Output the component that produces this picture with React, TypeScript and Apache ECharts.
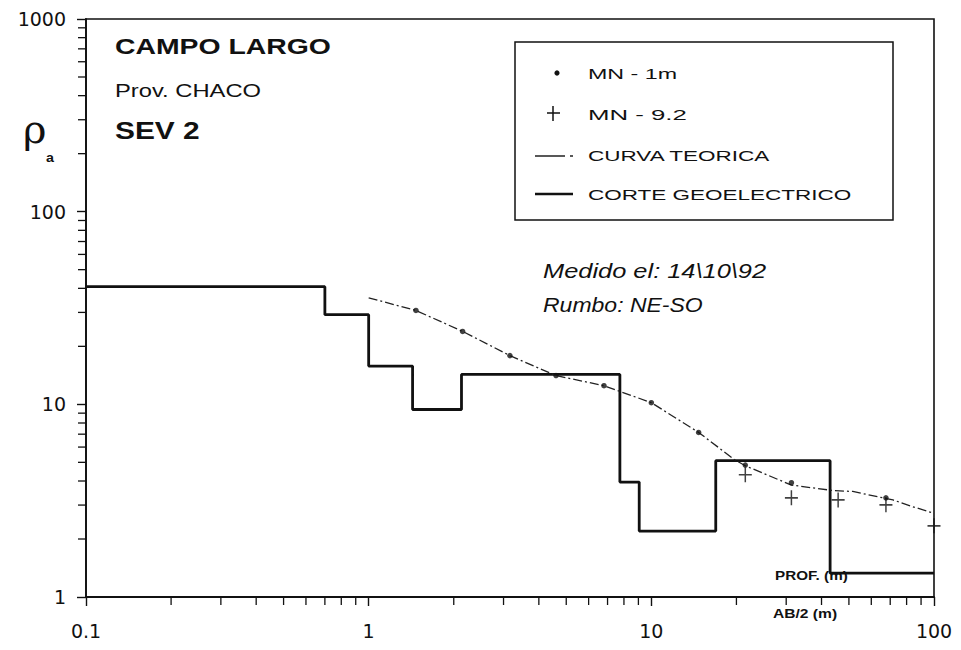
import { useEffect, useRef } from "react";
import * as echarts from "echarts";

// Geoelectric section (layer boundaries along AB/2 axis and layer resistivities)
const layerBounds = [0.1, 0.7, 1.0, 1.43, 2.13, 7.74, 9.06, 16.9, 42.9, 100];
const layerRho = [40.8, 29.2, 15.8, 9.4, 14.3, 3.95, 2.2, 5.1, 1.33];

// Theoretical curve
const curveAB = [1.0, 1.47, 2.15, 3.16, 4.6, 6.8, 10, 14.7, 19.7, 21.5, 31.3, 43.9, 51.6, 71.6, 84.2, 100];
const curveRho = [35.7, 30.7, 23.9, 17.9, 14.1, 12.5, 10.2, 7.15, 5.16, 4.8, 3.81, 3.57, 3.53, 3.19, 2.94, 2.72];

// Field measurements, MN = 1 m
const mn1AB = [1.47, 2.15, 3.16, 4.6, 6.8, 10, 14.7, 21.5, 31.3, 67.6];
const mn1Rho = [30.7, 23.9, 17.9, 14.1, 12.5, 10.2, 7.15, 4.84, 3.92, 3.27];

// Field measurements, MN = 9.2 m
const mn92AB = [21.5, 31.3, 45.8, 67.6, 100];
const mn92Rho = [4.31, 3.27, 3.19, 3.01, 2.34];

// Axis minor tick positions (log axes)
const xMinorTicks = [0.2, 0.3, 0.4, 0.5, 0.6, 0.7, 0.8, 0.9, 2, 3, 4, 5, 6, 7, 8, 9, 20, 30, 40, 50, 60, 70, 80, 90];
const yMinorTicks = [2, 3, 4, 5, 6, 7, 8, 9, 20, 30, 40, 50, 60, 70, 80, 90, 200, 300, 400, 500, 600, 700, 800, 900];

const INK = "#111";
const SANS = '"Liberation Sans", Arial, Helvetica, sans-serif';

function txt(text: string, x: number, y: number, size: number, scaleX: number, weight = "normal", style = "normal") {
  return {
    type: "text",
    x,
    y,
    scaleX,
    z: 10,
    style: {
      text,
      fill: INK,
      fontSize: size,
      fontWeight: weight,
      fontStyle: style,
      fontFamily: SANS,
      align: "left",
      textAlign: "left",
      verticalAlign: "middle",
      textVerticalAlign: "middle",
    },
  };
}

export default function App() {
  const ref = useRef<HTMLDivElement>(null);

  useEffect(() => {
    if (!ref.current) return;
    const chart = echarts.init(ref.current, null, { renderer: "svg" });

    const stepData: number[][] = [];
    for (let i = 0; i < layerRho.length; i++) {
      stepData.push([layerBounds[i], layerRho[i]]);
      stepData.push([layerBounds[i + 1], layerRho[i]]);
    }

    const plainNum = (v: number) => String(Number(v.toPrecision(6)));

    const option: any = {
      animation: false,
      backgroundColor: "#fff",
      grid: {
        left: 86,
        right: 27,
        top: 19,
        bottom: 53,
        show: true,
        borderColor: INK,
        borderWidth: 1.6,
        backgroundColor: "transparent",
      },
      xAxis: {
        type: "log",
        logBase: 10,
        min: 0.1,
        max: 100,
        axisLine: { show: true, lineStyle: { color: INK, width: 2 } },
        axisTick: { show: true, inside: false, length: 9, lineStyle: { color: INK, width: 1.4 } },
        axisLabel: { color: INK, fontSize: 19, fontFamily: '"DejaVu Sans", sans-serif', margin: 24, formatter: plainNum },
        splitLine: { show: false },
        minorTick: { show: false },
      },
      yAxis: {
        type: "log",
        logBase: 10,
        min: 1,
        max: 1000,
        axisLine: { show: true, lineStyle: { color: INK, width: 1.8 } },
        axisTick: { show: true, inside: false, length: 9, lineStyle: { color: INK, width: 1.4 } },
        axisLabel: { color: INK, fontSize: 19, fontFamily: '"DejaVu Sans", sans-serif', margin: 20, formatter: plainNum },
        splitLine: { show: false },
        minorTick: { show: false },
      },
      series: [
        {
          name: "CORTE GEOELECTRICO",
          type: "line",
          data: stepData,
          symbol: "none",
          lineStyle: { color: INK, width: 2.8 },
          z: 3,
        },
        {
          name: "CURVA TEORICA",
          type: "line",
          data: curveAB.map((x, i) => [x, curveRho[i]]),
          symbol: "none",
          lineStyle: { color: "#222", width: 1.3, type: [9, 3, 2, 3] },
          z: 4,
        },
        {
          name: "MN - 1m",
          type: "scatter",
          data: mn1AB.map((x, i) => [x, mn1Rho[i]]),
          symbol: "circle",
          symbolSize: 5.5,
          itemStyle: { color: INK },
          z: 5,
        },
        {
          name: "MN - 9.2",
          type: "scatter",
          data: mn92AB.map((x, i) => [x, mn92Rho[i]]),
          symbol: "path://M6,0 L6,12 M0,6 L12,6",
          symbolSize: [13, 15],
          itemStyle: { color: "none", borderColor: INK, borderWidth: 1.6 },
          z: 5,
        },
        {
          type: "custom",
          silent: true,
          clip: false,
          data: xMinorTicks.map((v) => [v, 1]),
          renderItem: (_p: any, api: any) => {
            const p = api.coord([api.value(0), api.value(1)]);
            return {
              type: "line",
              shape: { x1: p[0], y1: p[1], x2: p[0], y2: p[1] + 8 },
              style: { stroke: INK, lineWidth: 1.3 },
            };
          },
          z: 2,
        },
        {
          type: "custom",
          silent: true,
          clip: false,
          data: yMinorTicks.map((v) => [0.1, v]),
          renderItem: (_p: any, api: any) => {
            const p = api.coord([api.value(0), api.value(1)]);
            return {
              type: "line",
              shape: { x1: p[0] - 8, y1: p[1], x2: p[0], y2: p[1] },
              style: { stroke: INK, lineWidth: 1.3 },
            };
          },
          z: 2,
        },
      ],
      graphic: [
        txt("CAMPO LARGO", 115, 46, 22, 1.29, "bold"),
        txt("Prov. CHACO", 115, 91, 18, 1.32),
        txt("SEV 2", 115, 131, 23, 1.3, "bold"),
        {
          type: "text",
          x: 23,
          y: 129,
          z: 10,
          style: {
            text: "ρ",
            fill: INK,
            fontSize: 40,
            fontFamily: '"DejaVu Serif", serif',
            align: "left",
            textAlign: "left",
            verticalAlign: "middle",
            textVerticalAlign: "middle",
          },
        },
        txt("a", 46, 158, 13, 1.1, "bold"),
        {
          type: "rect",
          z: 10,
          shape: { x: 515, y: 42, width: 378, height: 178 },
          style: { fill: "#fff", stroke: INK, lineWidth: 1.5 },
        },
        { type: "circle", z: 11, shape: { cx: 557, cy: 73, r: 2.6 }, style: { fill: INK } },
        { type: "line", z: 11, shape: { x1: 547, y1: 113, x2: 560, y2: 113 }, style: { stroke: INK, lineWidth: 1.5 } },
        { type: "line", z: 11, shape: { x1: 553, y1: 106, x2: 553, y2: 121 }, style: { stroke: INK, lineWidth: 1.5 } },
        { type: "line", z: 11, shape: { x1: 535, y1: 156, x2: 565, y2: 156 }, style: { stroke: INK, lineWidth: 1.4 } },
        { type: "line", z: 11, shape: { x1: 570, y1: 156, x2: 573, y2: 156 }, style: { stroke: INK, lineWidth: 1.4 } },
        { type: "line", z: 11, shape: { x1: 535, y1: 194, x2: 573, y2: 194 }, style: { stroke: INK, lineWidth: 2.6 } },
        { ...txt("MN - 1m", 588, 74, 15, 1.55), z: 12 },
        { ...txt("MN - 9.2", 588, 115, 15, 1.72), z: 12 },
        { ...txt("CURVA TEORICA", 588, 156, 15, 1.5), z: 12 },
        { ...txt("CORTE GEOELECTRICO", 588, 195, 15, 1.5), z: 12 },
        txt("Medido el: 14\\10\\92", 543, 271, 20, 1.27, "normal", "italic"),
        txt("Rumbo: NE-SO", 543, 305, 20, 1.15, "normal", "italic"),
        txt("PROF. (m)", 775, 576, 12, 1.27, "bold"),
        txt("AB/2 (m)", 773, 614, 12, 1.3, "bold"),
      ],
    };

    chart.setOption(option);
    return () => chart.dispose();
  }, []);

  return (
    <div
      ref={ref}
      style={{ position: "absolute", left: 0, top: 0, width: 961, height: 650, background: "#fff" }}
    />
  );
}
